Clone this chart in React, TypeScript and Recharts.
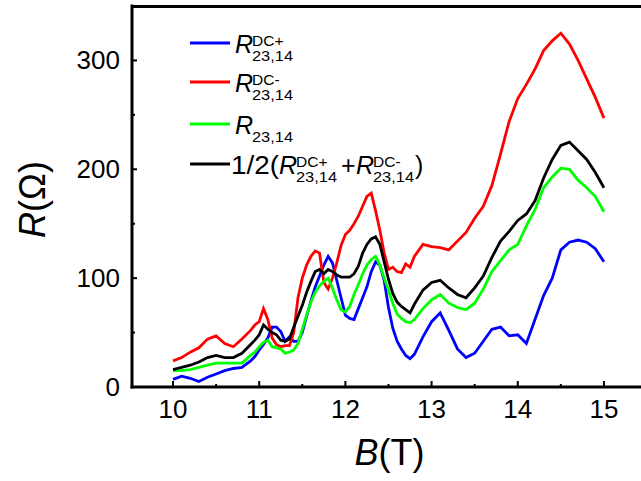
import { LineChart, Line, XAxis, YAxis, Legend } from "recharts";

const FONT = "'Liberation Sans', Arial, Helvetica, sans-serif";

// magnetic field B (T)
const fieldB = [
  10.0, 10.1, 10.2, 10.3, 10.4, 10.5, 10.6, 10.7, 10.8, 10.9,
  10.95, 11.0, 11.05, 11.1, 11.15, 11.2, 11.25, 11.3, 11.35, 11.4, 11.45, 11.5, 11.55, 11.6, 11.65,
  11.7, 11.75, 11.8, 11.85, 11.9, 11.95, 12.0, 12.05, 12.1, 12.15, 12.2, 12.25, 12.3, 12.35, 12.4,
  12.45, 12.5, 12.55, 12.6, 12.65, 12.7, 12.75,
  12.8, 12.9, 13.0, 13.1, 13.2, 13.3, 13.4, 13.5, 13.6, 13.7, 13.8, 13.9, 14.0, 14.1, 14.2, 14.3,
  14.4, 14.5, 14.6, 14.7, 14.8, 14.9, 15.0,
];

// R (Ohm)
const rDcPlus = [
  7, 10, 8, 5, 9, 12, 15, 17, 18, 24,
  28, 34, 39, 45, 55, 55, 51, 42, 46, 42, 42, 50, 65, 79, 92, 102, 112, 120, 114, 98, 82, 66, 63, 62,
  72, 82, 92, 106, 115, 112, 98, 73, 54, 42, 35, 29, 26,
  30, 46, 60, 68, 52, 35, 27, 31, 42, 53, 55, 47, 48, 40, 62, 84, 100, 126, 133, 135, 133, 127, 115,
];
const rDcMinus = [
  24, 27, 32, 36, 44, 47, 40, 37, 44, 52,
  57, 60, 72, 62, 45, 39, 37, 38, 38, 50, 82, 100, 112, 120, 125, 123, 96, 90, 100, 114, 130, 140,
  144, 150, 157, 166, 175, 178, 162, 144, 123, 108, 110, 106, 105, 113, 110,
  120, 131, 129, 128, 126, 134, 142, 155, 166, 185, 214, 244, 265, 278, 292, 309, 318, 325, 315, 300,
  283, 266, 247,
];
const rAc = [
  15, 15, 16, 18, 20, 22, 22, 22, 22, 29,
  32, 37, 41, 43, 37, 36, 35, 31, 32, 34, 40, 53, 66, 78, 87, 93, 97, 100, 91, 80, 71, 69, 74, 85, 94,
  104, 112, 117, 120, 112, 100, 89, 77, 67, 63, 60, 59,
  62, 72, 80, 85, 77, 73, 71, 77, 90, 106, 116, 126, 131, 148, 163, 183, 193, 201, 200, 190, 183, 175, 161,
];
const rAvg = [
  16, 18, 20, 23, 27, 29, 27, 27, 31, 39,
  43, 48, 57, 53, 50, 48, 43, 42, 44, 55, 65, 75, 87, 97, 106, 108, 104, 108, 106, 103, 101, 101, 101,
  104, 111, 123, 131, 136, 138, 131, 115, 99, 86, 78, 74, 71, 68,
  76, 89, 96, 98, 91, 85, 82, 91, 102, 119, 134, 143, 153, 159, 171, 192, 209, 222, 225, 217, 209, 197, 183,
];

const xTicks = [10, 10.5, 11, 11.5, 12, 12.5, 13, 13.5, 14, 14.5, 15];
const yTicks = [0, 50, 100, 150, 200, 250, 300];
const xDomain: [number, number] = [9.524, 15.43];
const yMax = 350;

const series = [
  { key: "dcPlus", color: "#0000ff", values: rDcPlus },
  { key: "dcMinus", color: "#ff0000", values: rDcMinus },
  { key: "ac", color: "#00ff00", values: rAc },
  { key: "avg", color: "#000000", values: rAvg },
];

const data = fieldB.map((b, i) => {
  const row: Record<string, number> = { b };
  series.forEach((s) => (row[s.key] = s.values[i]));
  return row;
});

const txt = { fontFamily: FONT, fill: "#000" };

const BottomTick = ({ x, y, payload }: any) => {
  const major = Number.isInteger(payload.value);
  return (
    <g>
      <line x1={x} x2={x} y1={y} y2={y - (major ? 6 : 3)} stroke="#000" strokeWidth={2} />
      {major && (
        <text x={x} y={y + 31} textAnchor="middle" fontSize={26} {...txt}>{payload.value}</text>
      )}
    </g>
  );
};

const LeftTick = ({ x, y, payload }: any) => {
  const major = payload.value % 100 === 0;
  return (
    <g>
      <line x1={x} x2={x + (major ? 5 : 3)} y1={y} y2={y} stroke="#000" strokeWidth={2} />
      {major && (
        <text x={x - 12} y={y + 9} textAnchor="end" fontSize={26} {...txt}>{payload.value}</text>
      )}
    </g>
  );
};

const XTitle = ({ viewBox }: any) => (
  <text x={viewBox.x + viewBox.width / 2 + 3} y={viewBox.y + 78} textAnchor="middle" fontSize={36} {...txt}>
    <tspan fontStyle="italic">B</tspan>(T)
  </text>
);

const YTitle = ({ viewBox }: any) => {
  const cx = viewBox.x - 27;
  const cy = viewBox.y + viewBox.height / 2 + 3;
  return (
    <text x={cx} y={cy} transform={`rotate(-90 ${cx} ${cy})`} textAnchor="middle" fontSize={36} {...txt}>
      <tspan fontStyle="italic">R</tspan>(Ω)
    </text>
  );
};

// italic R with stacked super/subscript
const RSym = ({ x, y, sup }: { x: number; y: number; sup?: string }) => (
  <g>
    <text x={x} y={y + 10} fontSize={25} fontStyle="italic" {...txt}>R</text>
    {sup && <text x={x + 17} y={y + 3} fontSize={15.5} {...txt}>{sup}</text>}
    <text x={x + 17} y={y + 17.5} fontSize={15.5} textLength={41} lengthAdjust="spacingAndGlyphs" {...txt}>23,14</text>
  </g>
);

// legend box sits at (180, 20) on the page
const LX = 180;
const LY = 20;
const rowY = [23, 62, 104, 144];

const renderLegend = () => (
  <svg width={270} height={172} style={{ display: "block", overflow: "visible" }}>
    <g transform={`translate(${-LX} 0)`}>
      {series.map((s, i) => (
        <line key={s.key} x1={190} x2={230} y1={rowY[i]} y2={rowY[i]} stroke={s.color} strokeWidth={3} />
      ))}
      <RSym x={235} y={rowY[0]} sup="DC+" />
      <RSym x={235} y={rowY[1]} sup="DC-" />
      <RSym x={235} y={rowY[2]} />
      <text x={231} y={rowY[3] + 10} fontSize={25} textLength={48} lengthAdjust="spacingAndGlyphs" {...txt}>1/2(</text>
      <RSym x={279} y={rowY[3]} sup="DC+" />
      <text x={341} y={rowY[3] + 10} fontSize={25} {...txt}>+</text>
      <RSym x={356} y={rowY[3]} sup="DC-" />
      <text x={415} y={rowY[3] + 10} fontSize={25} {...txt}>)</text>
    </g>
  </svg>
);

const axisLine = { stroke: "#000", strokeWidth: 3, strokeLinecap: "square" as const };

export default function App() {
  return (
    <div style={{ position: "absolute", left: 0, top: 0, width: 641, height: 481, background: "#fff" }}>
      <LineChart width={641} height={481} data={data} margin={{ top: 6, right: 0, bottom: 34, left: 72 }}>
        <XAxis
          dataKey="b" type="number" domain={xDomain} allowDataOverflow
          ticks={xTicks} interval={0} tickSize={0} tickMargin={0} tickLine={false}
          tick={<BottomTick />} axisLine={axisLine} height={60} label={<XTitle />}
        />
        <YAxis
          type="number" domain={[0, yMax]} allowDataOverflow ticks={yTicks} interval={0}
          tickSize={0} tickMargin={0} tickLine={false} tick={<LeftTick />} axisLine={axisLine}
          width={60} label={<YTitle />}
        />
        {series.map((s) => (
          <Line
            key={s.key} type="linear" dataKey={s.key}
            stroke={s.color} strokeWidth={2.8} dot={false} activeDot={false} isAnimationActive={false}
          />
        ))}
        <Legend
          layout="vertical" align="center" verticalAlign="middle" content={renderLegend}
          wrapperStyle={{ position: "absolute", left: LX, top: LY, width: 270, height: 172 }}
        />
      </LineChart>
      {/* top frame of the plot box */}
      <div style={{ position: "absolute", left: 131, top: 5, width: 510, height: 3, background: "#000" }} />
    </div>
  );
}
